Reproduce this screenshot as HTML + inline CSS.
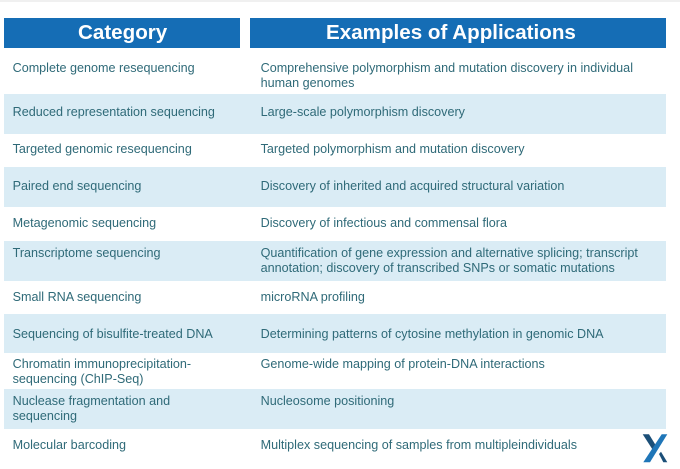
<!DOCTYPE html>
<html><head><meta charset="utf-8"><style>
html,body{margin:0;padding:0;background:#fff}
#p{position:relative;width:680px;height:469px;overflow:hidden;background:#fff;font-family:"Liberation Sans",sans-serif;filter:blur(.3px)}
#p div{position:absolute}
.h{background:#156db5;top:18px;height:30px}
.ht{color:#fff;font-weight:bold;font-size:20.6px;line-height:29px;top:18px;white-space:nowrap}
.b{left:4px;width:662px;background:#daecf5}
.t{color:#2f6a78;font-size:12.6px;line-height:15px;white-space:nowrap;top:0}
.l{left:12.6px}.r{left:260.6px}
</style></head><body><div id="p">
<div style="left:0;top:0;width:680px;height:2px;background:#f0f0f0"></div>
<div class="h" style="left:4px;width:236px"></div>
<div class="h" style="left:250px;width:416px"></div>
<div class="ht" style="left:78px">Category</div>
<div class="ht" style="left:326px">Examples of Applications</div>
<div class="b" style="top:94px;height:40px"></div>
<div class="b" style="top:167px;height:40px"></div>
<div class="b" style="top:241px;height:40px"></div>
<div class="b" style="top:314px;height:39px"></div>
<div class="b" style="top:389px;height:40px"></div>
<div class="t l" style="top:61px">Complete genome resequencing</div>
<div class="t r" style="top:61px">Comprehensive polymorphism and mutation discovery in individual<br>human genomes</div>
<div class="t l" style="top:105px">Reduced representation sequencing</div>
<div class="t r" style="top:105px">Large-scale polymorphism discovery</div>
<div class="t l" style="top:142px">Targeted genomic resequencing</div>
<div class="t r" style="top:142px">Targeted polymorphism and mutation discovery</div>
<div class="t l" style="top:179px">Paired end sequencing</div>
<div class="t r" style="top:179px">Discovery of inherited and acquired structural variation</div>
<div class="t l" style="top:216px">Metagenomic sequencing</div>
<div class="t r" style="top:216px">Discovery of infectious and commensal flora</div>
<div class="t l" style="top:246px">Transcriptome sequencing</div>
<div class="t r" style="top:246px">Quantification of gene expression and alternative splicing; transcript<br>annotation; discovery of transcribed SNPs or somatic mutations</div>
<div class="t l" style="top:290px">Small RNA sequencing</div>
<div class="t r" style="top:290px">microRNA profiling</div>
<div class="t l" style="top:327px">Sequencing of bisulfite-treated DNA</div>
<div class="t r" style="top:327px">Determining patterns of cytosine methylation in genomic DNA</div>
<div class="t l" style="top:357px">Chromatin immunoprecipitation-<br>sequencing (ChIP-Seq)</div>
<div class="t r" style="top:357px">Genome-wide mapping of protein-DNA interactions</div>
<div class="t l" style="top:394px">Nuclease fragmentation and<br>sequencing</div>
<div class="t r" style="top:394px">Nucleosome positioning</div>
<div class="t l" style="top:438px">Molecular barcoding</div>
<div class="t r" style="top:438px">Multiplex sequencing of samples from multipleindividuals</div>
<svg style="position:absolute;left:640px;top:432px" width="30" height="32" viewBox="0 0 30 32">
<polygon points="2.7,2.3 9,2.3 16.5,14.5 13.5,19" fill="#1b4f78"/>
<polygon points="21.7,2.3 27.3,2.3 10,30.3 3.3,30.3" fill="#1f76b8"/>
<polygon points="19,22 21,19.7 27.3,30.3 23.3,30.3" fill="#1b4f78"/>
</svg>
</div></body></html>
